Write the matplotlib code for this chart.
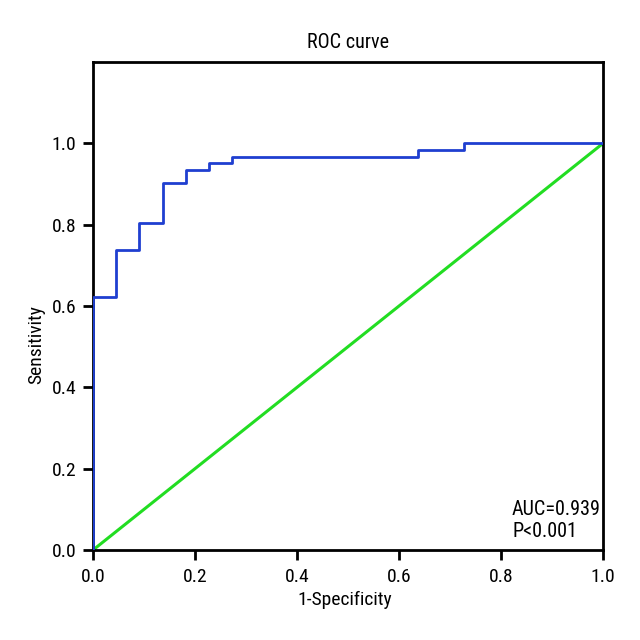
import matplotlib
matplotlib.use("Agg")
import matplotlib.pyplot as plt
from matplotlib import font_manager as fm

# pick a condensed font if one is installed
pref = ['LiberationSansNarrow-Regular', 'RobotoCondensed-Regular', 'Roboto_Condensed-Regular',
        'OpenSans_Condensed-Regular', 'OpenSansCondensed', 'DejaVuSansCondensed.ttf']
files = [f.fname for f in fm.fontManager.ttflist]
font_file = None
for p in pref:
    hits = [f for f in files if p.lower() in f.lower().replace(' ', '')]
    if hits:
        font_file = hits[0]
        break

def fp(size):
    if font_file:
        return fm.FontProperties(fname=font_file, size=size)
    return fm.FontProperties(family='DejaVu Sans', stretch='condensed', size=size)

# ROC step points (1-specificity, sensitivity)
fpr = [0.0, 0.0, 0.0455, 0.0455, 0.0909, 0.0909, 0.1364, 0.1364, 0.1818, 0.1818,
       0.2273, 0.2273, 0.2727, 0.2727, 0.6364, 0.6364, 0.7273, 0.7273, 1.0]
tpr = [0.0, 0.623, 0.623, 0.738, 0.738, 0.803, 0.803, 0.902, 0.902, 0.934,
       0.934, 0.951, 0.951, 0.967, 0.967, 0.984, 0.984, 1.0, 1.0]
diag = [0.0, 1.0]
xticks = [0.0, 0.2, 0.4, 0.6, 0.8, 1.0]
yticks = [0.0, 0.2, 0.4, 0.6, 0.8, 1.0]
auc_text = 'AUC=0.939'
p_text = 'P<0.001'

fig = plt.figure(figsize=(6.4, 6.4), dpi=100)
ax = fig.add_axes([0.1453, 0.1406, 0.7969, 0.7625])
ax.plot(diag, diag, color='#22dd22', lw=2.2, zorder=2)
ax.plot(fpr, tpr, color='#1f3fd0', lw=2.0, zorder=3)
ax.set_xlim(0, 1)
ax.set_ylim(0, 1.2)
ax.set_xticks(xticks)
ax.set_yticks(yticks)
ax.set_xticklabels([f"{v:.1f}" for v in xticks], fontproperties=fp(14))
ax.set_yticklabels([f"{v:.1f}" for v in yticks], fontproperties=fp(14))
ax.tick_params(axis='x', direction='out', length=7, width=2, pad=6)
ax.tick_params(axis='y', direction='out', length=7.5, width=2, pad=4.5)
for s in ax.spines.values():
    s.set_linewidth(2)
ax.set_xlabel('1-Specificity', fontproperties=fp(14), va='baseline')
ax.xaxis.set_label_coords(0.493, -0.1127)
ax.set_ylabel('Sensitivity', fontproperties=fp(14), va='center')
ax.yaxis.set_label_coords(-0.112, 0.422)
ax.set_title('ROC curve', fontproperties=fp(14.5), pad=10)
ax.text(0.8216, 0.086, auc_text, fontproperties=fp(14.5), ha='left', va='baseline')
ax.text(0.8216, 0.032, p_text, fontproperties=fp(14.5), ha='left', va='baseline')
fig.savefig('out.png', dpi=100)
